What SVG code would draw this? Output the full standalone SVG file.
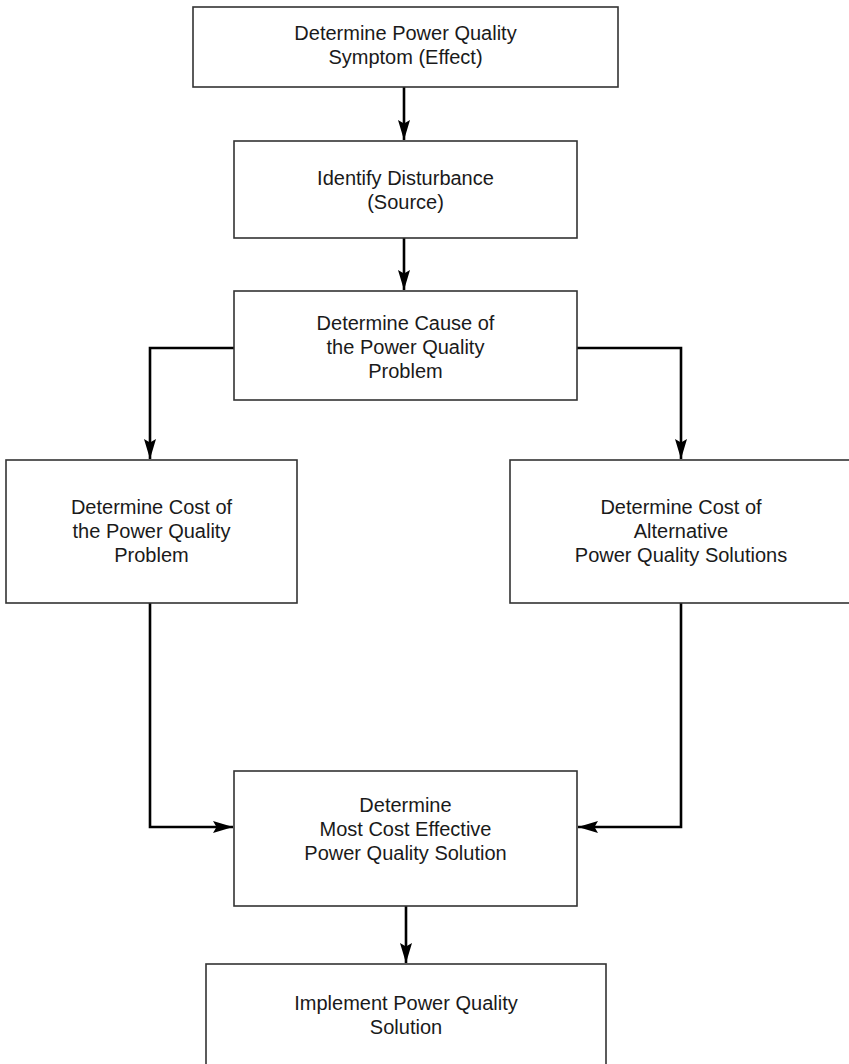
<svg xmlns="http://www.w3.org/2000/svg" width="849" height="1064" viewBox="0 0 849 1064">
  <style>
    .box { fill: #ffffff; stroke: #333333; stroke-width: 1.6; }
    .label { font-family: "Liberation Sans", Arial, Helvetica, sans-serif; font-size: 20px; fill: #1a1a1a; text-anchor: middle; }
    .wire { fill: none; stroke: #000000; stroke-width: 2.6; }
  </style>
  <defs>
    <marker id="arrow" markerUnits="userSpaceOnUse" markerWidth="22" markerHeight="14" refX="20" refY="7" orient="auto">
      <path d="M0,1 L20,7 L0,13 L3.5,7 Z" fill="#000000"/>
    </marker>
  </defs>
  <rect width="849" height="1064" fill="#ffffff"/>

  <!-- connectors -->
  <g id="connectors">
    <line class="wire" x1="404" y1="87" x2="404" y2="140" marker-end="url(#arrow)"/>
    <line class="wire" x1="404" y1="238" x2="404" y2="290" marker-end="url(#arrow)"/>
    <polyline class="wire" points="234,348 150,348 150,459" marker-end="url(#arrow)"/>
    <polyline class="wire" points="577,348 681,348 681,459" marker-end="url(#arrow)"/>
    <polyline class="wire" points="150,603 150,827 233,827" marker-end="url(#arrow)"/>
    <polyline class="wire" points="681,603 681,827 578,827" marker-end="url(#arrow)"/>
    <line class="wire" x1="406" y1="906" x2="406" y2="963" marker-end="url(#arrow)"/>
  </g>

  <g id="symptom">
    <rect class="box" x="193" y="7" width="425" height="80"/>
    <text class="label" x="405.5" y="40">Determine Power Quality</text>
    <text class="label" x="405.5" y="64">Symptom (Effect)</text>
  </g>

  <g id="disturbance">
    <rect class="box" x="234" y="141" width="343" height="97"/>
    <text class="label" x="405.5" y="185">Identify Disturbance</text>
    <text class="label" x="405.5" y="209">(Source)</text>
  </g>

  <g id="cause">
    <rect class="box" x="234" y="291" width="343" height="109"/>
    <text class="label" x="405.5" y="330">Determine Cause of</text>
    <text class="label" x="405.5" y="354">the Power Quality</text>
    <text class="label" x="405.5" y="378">Problem</text>
  </g>

  <g id="problem-cost">
    <rect class="box" x="6" y="460" width="291" height="143"/>
    <text class="label" x="151.5" y="514">Determine Cost of</text>
    <text class="label" x="151.5" y="538">the Power Quality</text>
    <text class="label" x="151.5" y="562">Problem</text>
  </g>

  <g id="solution-cost">
    <rect class="box" x="510" y="460" width="343" height="143"/>
    <text class="label" x="681" y="514">Determine Cost of</text>
    <text class="label" x="681" y="538">Alternative</text>
    <text class="label" x="681" y="562">Power Quality Solutions</text>
  </g>

  <g id="best-solution">
    <rect class="box" x="234" y="771" width="343" height="135"/>
    <text class="label" x="405.5" y="812">Determine</text>
    <text class="label" x="405.5" y="836">Most Cost Effective</text>
    <text class="label" x="405.5" y="860">Power Quality Solution</text>
  </g>

  <g id="implement">
    <rect class="box" x="206" y="964" width="400" height="110"/>
    <text class="label" x="406" y="1010">Implement Power Quality</text>
    <text class="label" x="406" y="1034">Solution</text>
  </g>
</svg>
